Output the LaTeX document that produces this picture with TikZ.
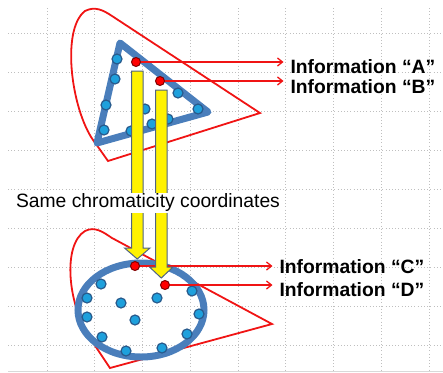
\documentclass[tikz,border=0pt]{standalone}
\usepackage{fontspec}
\setmainfont{Liberation Sans}
\usetikzlibrary{arrows.meta}
\definecolor{gamutred}{RGB}{240,20,20}
\definecolor{edgeblue}{RGB}{74,126,187}
\definecolor{dotblue}{RGB}{30,160,220}
\definecolor{dotline}{RGB}{40,90,140}
\definecolor{arrowline}{RGB}{80,100,130}
\tikzset{
  gridline/.style={gray!50, line width=0.8pt, dash pattern=on 1pt off 2.2pt},
  gamut/.style={gamutred, line width=1.8pt, line join=miter},
  bluedot/.style={circle, draw=dotline, fill=dotblue, line width=1.2pt, minimum size=10pt, inner sep=0pt},
  reddot/.style={circle, draw=red!50!black, fill=red, line width=1pt, minimum size=9pt, inner sep=0pt},
  pointer/.style={gamutred, line width=1.3pt, -{Straight Barb[length=5pt,width=8pt]}},
  info/.style={anchor=west, inner sep=0pt, outer xsep=7pt, font=\fontsize{19.3}{22}\selectfont\bfseries},
  yellowarrow/.style={fill=yellow, draw=arrowline, line width=1pt, line join=miter}
}
\begin{document}
\begin{tikzpicture}[x=1pt,y=-1pt]
\useasboundingbox (0,0) rectangle (443,372);
% grid
\foreach \i in {0,...,8} {
  \draw[gridline] (47+47.75*\i, 8) -- (47+47.75*\i, 371);
  \draw[gridline] (8, 33+39*\i) -- (442, 33+39*\i);
}
\draw[gray!30, line width=1pt] (8,371) -- (443,371);
% gamut outlines
\draw[gamut] (108,161) -- (96,144) .. controls (72,115) and (60,30) .. (85,11)
  .. controls (95,6) and (103,10) .. (112,16) -- (260,113) -- cycle;
\draw[gamut] (110,368) -- (90,338) .. controls (68,305) and (62,245) .. (85,231)
  .. controls (95,226) and (103,232) .. (112,238) -- (272,324) -- cycle;
% triangle and ellipse
\draw[edgeblue, line width=7pt, line join=round] (120,43) -- (208,112) -- (97,143) -- cycle;
\draw[edgeblue, line width=7pt] (141,310) ellipse [x radius=63pt, y radius=47pt];
% blue dots
\foreach \p [count=\k] in {(117,59),(115,79),(106,105),(104,130),(131,131),(145,109),(152,124),(168,119),(178,93),(198,109)}
  \node[bluedot] (t\k) at \p {};
\foreach \p [count=\k] in {(101,284),(87,298),(87,317),(102,337),(126,351),(162,348),(187,334),(199,314),(192,291),(157,298),(121,303),(135,320)}
  \node[bluedot] (e\k) at \p {};
% labels
\node[info] (infoA) at (283.5,67) {Information “A”};
\node[info] (infoB) at (283.5,87) {Information “B”};
\node[info] (infoC) at (272.5,267) {Information “C”};
\node[info] (infoD) at (272.5,290) {Information “D”};
% red points and pointers
\node[reddot] (dA) at (136,62) {};
\node[reddot] (dB) at (160,81) {};
\node[reddot] (dC) at (135,266) {};
\node[reddot] (dD) at (165,285) {};
\draw[pointer] (dA.east) -- (dA -| infoA.west);
\draw[pointer] (dB.east) -- (dB -| infoB.west);
\draw[pointer] (dC.east) -- (dC -| infoC.west);
\draw[pointer] (dD.east) -- (dD -| infoD.west);
% yellow arrows
\draw[yellowarrow] (131.5,71) -- (143,71) -- (143,248) -- (150,248) -- (137.25,259)
  -- (124.5,248) -- (131.5,248) -- cycle;
\draw[yellowarrow] (155.5,90) -- (167,90) -- (167,267) -- (173,267) -- (161.25,278)
  -- (149.5,267) -- (155.5,267) -- cycle;
\node[fill=white, inner xsep=2pt, inner ysep=1pt, font=\fontsize{19.3}{22}\selectfont] (same) at (148,203) {Same chromaticity coordinates};
\end{tikzpicture}
\end{document}
